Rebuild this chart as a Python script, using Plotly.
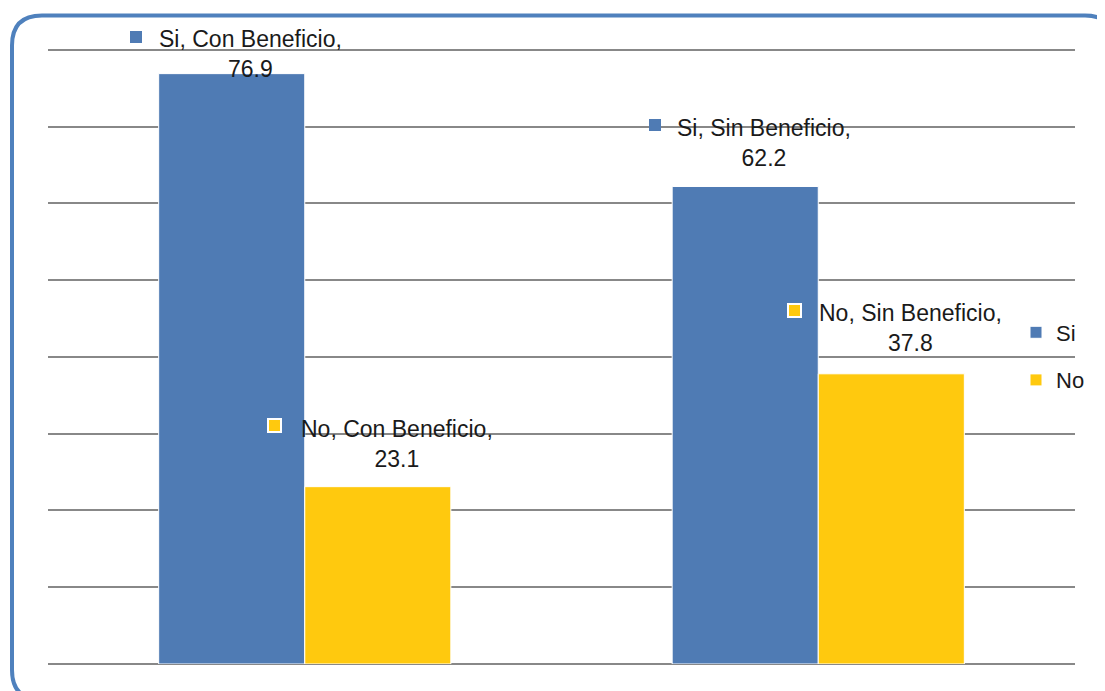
import plotly.graph_objects as go

# -- Datos ---------------------------------------------------------------------
categorias = ["Con Beneficio", "Sin Beneficio"]
valores_si = [76.9, 62.2]
valores_no = [23.1, 37.8]
series = ["Si", "No"]

# -- Estilo --------------------------------------------------------------------
AZUL = "#4F7BB4"
AMARILLO = "#FFC90E"
BORDE = "#4F81BD"
GRIS = "#888888"
FUENTE = "Liberation Sans"
ANCHO, ALTO = 1105, 691
OFF = 8  # margen del <body> en la pagina
M_L, M_R, M_T, M_B = 40, 38, 38, 35
W_PLOT = ANCHO - M_L - M_R
H_PLOT = ALTO - M_T - M_B
Y_MAX = 80.5


def px_x(px):
    # coordenada de pantalla -> paper
    return (px - OFF - M_L) / W_PLOT


def px_y(py):
    return (ALTO - M_B - (py - OFF)) / H_PLOT


fig = go.Figure()
fig.add_trace(go.Bar(x=categorias, y=valores_si, name=series[0], legendgroup="si",
                     marker=dict(color=AZUL, line=dict(color="white", width=1))))
fig.add_trace(go.Bar(x=categorias, y=valores_no, name=series[1], legendgroup="no",
                     marker=dict(color=AMARILLO, line=dict(color="white", width=1))))

# -- Etiquetas de datos (estilo Excel, con clave de leyenda) ------------------
# (serie, valores, color, desplazamiento de barra, lado clave, borde clave, ajustes)
etiquetas = [
    (series[0], valores_si, AZUL, -73, 12, 0, [(20, -95.5, 37), (43, -90.5, 61)]),
    (series[1], valores_no, AMARILLO, 73, 11, 2, [(43, -103, 61), (46, -96.5, 63)]),
]
for nombre, valores, color, dx_barra, lado, borde, ajustes in etiquetas:
    for cat, val, (dy_txt, dx_clave, dy_clave) in zip(categorias, valores, ajustes):
        fig.add_annotation(
            x=cat, y=val, xref="x", yref="y", showarrow=False,
            text=f"{nombre}, {cat},<br>{val}",
            xanchor="center", yanchor="middle",
            xshift=dx_barra + 19, yshift=dy_txt,
            font=dict(family=FUENTE, size=23, color="#1a1a1a"),
        )
        fig.add_annotation(
            x=cat, y=val, xref="x", yref="y", showarrow=False,
            text=" ", width=lado, height=lado, borderpad=0,
            bgcolor=color, bordercolor="white", borderwidth=borde,
            xanchor="center", yanchor="middle",
            xshift=dx_barra + dx_clave, yshift=dy_clave,
            font=dict(size=4),
        )

# -- Marco redondeado ----------------------------------------------------------
L, R, T, B = px_x(12), px_x(1115), px_y(15.5), px_y(700)
rx, ry = 30 / W_PLOT, 30 / H_PLOT
marco = (f"M {L+rx},{T} L {R-rx},{T} Q {R},{T} {R},{T-ry} L {R},{B+ry} "
         f"Q {R},{B} {R-rx},{B} L {L+rx},{B} Q {L},{B} {L},{B+ry} "
         f"L {L},{T-ry} Q {L},{T} {L+rx},{T} Z")
fig.add_shape(type="path", path=marco, xref="paper", yref="paper",
              line=dict(color=BORDE, width=4), layer="above")

fig.update_layout(
    width=ANCHO, height=ALTO,
    margin=dict(l=M_L, r=M_R, t=M_T, b=M_B),
    paper_bgcolor="white", plot_bgcolor="white",
    barmode="group", bargap=0.431, bargroupgap=0,
    font=dict(family=FUENTE, size=23, color="#1a1a1a"),
    legend=dict(x=px_x(1016), y=px_y(356.5), xanchor="left", yanchor="middle",
                tracegroupgap=16, bgcolor="rgba(0,0,0,0)",
                font=dict(family=FUENTE, size=22, color="#1a1a1a")),
    xaxis=dict(showticklabels=False, showgrid=False, zeroline=False,
               showline=False, ticks=""),
    yaxis=dict(range=[0, Y_MAX], dtick=10, showticklabels=False, showgrid=True,
               gridcolor=GRIS, gridwidth=2, zeroline=True, zerolinecolor=GRIS,
               zerolinewidth=2, showline=False, ticks=""),
)

fig.write_html("out.html")
